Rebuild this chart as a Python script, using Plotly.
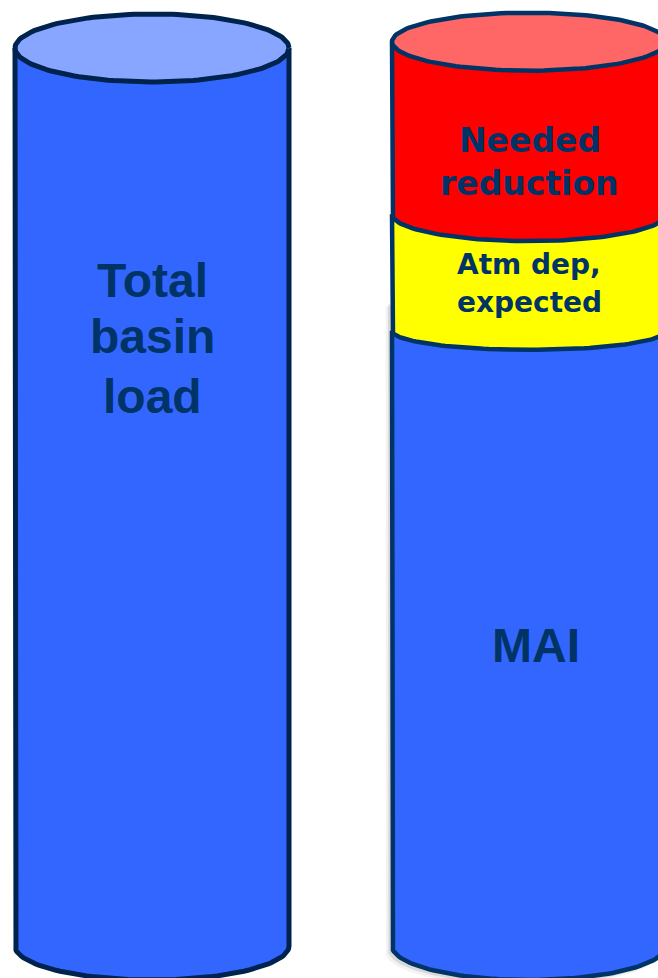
import numpy as np
import plotly.graph_objects as go

# ---- data -------------------------------------------------------------
total_label = "Total basin load"
total_value = [100.0]                                   # whole basin load (%)

segment_names = ["MAI", "Atm dep, expected", "Needed reduction"]
segment_values = [68.5, 13.0, 19.2]                     # stacked, bottom -> top (%)

# ---- styling ----------------------------------------------------------
W, H = 658, 978
BASE_PX = 946            # pixel row of value 0 (centre of bottom ellipse)
PX_PER_UNIT = 8.98       # vertical pixels per percent
CENTERS_PX = [152, 529]  # cylinder centre columns
PX_PER_X = 377.0         # pixels per x unit (distance between cylinders)
HALF_W_PX = 137

BLUE, BLUE_TOP = "#3366FF", "#88A5FF"
RED, RED_TOP = "#FF0000", "#FF6666"
YELLOW = "#FFFF00"
TEXT = "#003366"
seg_fill = [BLUE, YELLOW, RED]

# ellipse half-heights (px) at each boundary: left cylinder bottom/top,
# right cylinder bottom / MAI-atm / atm-needed / top
left_ry_px = [34, 34]
right_ry_px = [34, 19, 27, 29]

yr = [-(H - BASE_PX) / PX_PER_UNIT, BASE_PX / PX_PER_UNIT]
xr = [-CENTERS_PX[0] / PX_PER_X, (W - CENTERS_PX[0]) / PX_PER_X]
rx = HALF_W_PX / PX_PER_X


def lower_arc(cx, cy, ry, n=80):
    t = np.linspace(np.pi, 2 * np.pi, n)
    return cx + rx * np.cos(t), cy + ry * np.sin(t)


def body(cx, lo, hi, ry):
    ax, ay = lower_arc(cx, lo, ry)
    xs = np.concatenate([[cx - rx, cx - rx], ax, [cx + rx, cx + rx]])
    ys = np.concatenate([[hi, lo], ay, [lo, hi]])
    return xs, ys


def ellipse(cx, cy, ry, n=160):
    t = np.linspace(0, 2 * np.pi, n)
    return cx + rx * np.cos(t), cy + ry * np.sin(t)


fig = go.Figure()


def add_shape(xs, ys, fill, line_color, lw):
    fig.add_trace(go.Scatter(
        x=xs, y=ys, mode="lines", fill="toself", fillcolor=fill,
        line=dict(color=line_color, width=lw), hoverinfo="skip",
        showlegend=False))


# left cylinder: total basin load
cx0 = 0.0
lo_ry = left_ry_px[0] / PX_PER_UNIT
top_ry = left_ry_px[1] / PX_PER_UNIT
xs, ys = body(cx0, 0.0, total_value[0], lo_ry)
add_shape(xs, ys, BLUE, "#00234D", 5)
xs, ys = ellipse(cx0, total_value[0], top_ry)
add_shape(xs, ys, BLUE_TOP, "#00234D", 5)

# right cylinder: stacked segments
cx1 = 1.0
bounds = np.concatenate([[0.0], np.cumsum(segment_values)])

# soft drop shadow behind the MAI part
sdx, sdy = -4 / PX_PER_X, -4 / PX_PER_UNIT
mai_top = bounds[1] + right_ry_px[1] / PX_PER_UNIT * 1.6
for k, a in [(1.6, 0.05), (1.0, 0.10)]:
    xs, ys = body(cx1, 0.0, mai_top, right_ry_px[0] / PX_PER_UNIT)
    fig.add_trace(go.Scatter(
        x=xs + sdx * k, y=ys + sdy * k, mode="lines", fill="toself",
        fillcolor=f"rgba(0,0,0,{a})", line=dict(width=0),
        hoverinfo="skip", showlegend=False))

for i in range(len(segment_values)):
    xs, ys = body(cx1, bounds[i], bounds[i + 1], right_ry_px[i] / PX_PER_UNIT)
    add_shape(xs, ys, seg_fill[i], "#003366", 4.5)
xs, ys = ellipse(cx1, bounds[-1], right_ry_px[-1] / PX_PER_UNIT)
add_shape(xs, ys, RED_TOP, "#003366", 4.5)

# ---- labels -----------------------------------------------------------
ARIAL = "Liberation Sans, Arial, sans-serif"
TAHOMA = "DejaVu Sans, Verdana, sans-serif"


def label(text, cx_px, cy_px, size, family):
    fig.add_annotation(
        x=cx_px / W, y=1 - cy_px / H, xref="paper", yref="paper",
        text=f"<b>{text}</b>", showarrow=False, xanchor="center",
        yanchor="middle", font=dict(family=family, size=size, color=TEXT))


for word, ypx in zip(total_label.split(" "), [280, 337, 396]):
    label(word, 152, ypx, 48, ARIAL)

label(segment_names[0], 536, 645, 48, ARIAL)
label("Needed", 530, 140, 33, TAHOMA)
label("reduction", 529, 184, 33, TAHOMA)
label("Atm dep,", 529, 264, 28, TAHOMA)
label("expected", 529, 302, 28, TAHOMA)

fig.update_layout(
    width=W, height=H, autosize=False,
    margin=dict(l=0, r=0, t=0, b=0),
    paper_bgcolor="white", plot_bgcolor="white",
    xaxis=dict(range=xr, visible=False, fixedrange=True),
    yaxis=dict(range=yr, visible=False, fixedrange=True),
    showlegend=False,
)

fig.write_html("out.html")
